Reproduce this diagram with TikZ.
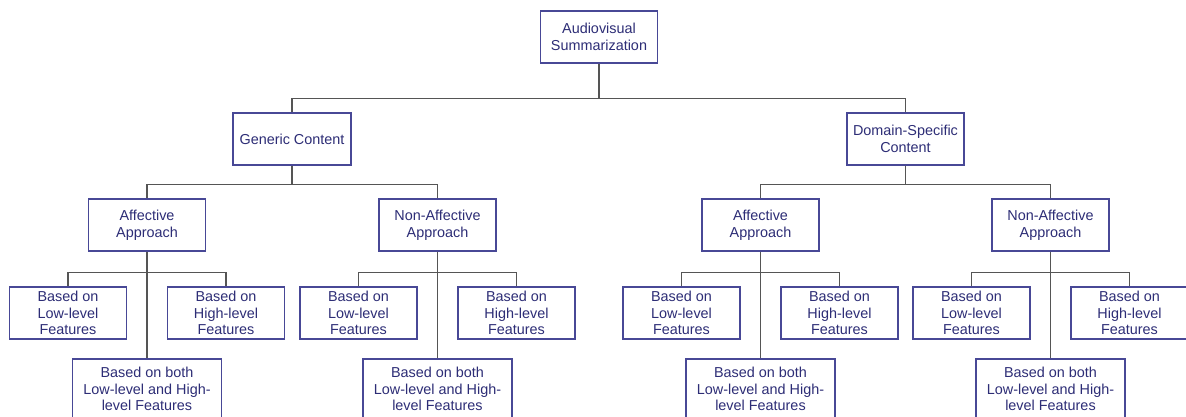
\documentclass[tikz,border=0pt]{standalone}
\usepackage{fontspec}
\setmainfont{Liberation Sans}
\usetikzlibrary{positioning}
\definecolor{boxline}{RGB}{72,72,150}
\definecolor{boxtext}{RGB}{45,45,118}
\definecolor{linkgray}{RGB}{85,85,85}

\begin{document}
\begin{tikzpicture}[x=0.75pt, y=-0.75pt,
	box/.style={rectangle, draw=boxline, text=boxtext, line width=0.9pt, fill=white, minimum width=87.75pt, minimum height=39pt, inner sep=0pt, align=center, font=\fontsize{10.8}{12.5}\selectfont},
	widebox/.style={box, minimum width=111.75pt, minimum height=45pt},
	link/.style={draw=linkgray, line width=1.2pt}]
	\useasboundingbox (0,0) rectangle (1186,417);
	\node[box] (root) at (599,37) {Audiovisual\\Summarization};
	\node[box, minimum width=88.5pt] (gen) at (292,139) {Generic Content};
	\node[box] (dom) at (905.5,139) {Domain-Specific\\Content};
	\node[box] (a1) at (147,225) {Affective\\Approach};
	\node[box] (n1) at (437.5,225) {Non-Affective\\Approach};
	\node[box] (a2) at (760.5,225) {Affective\\Approach};
	\node[box] (n2) at (1050.5,225) {Non-Affective\\Approach};
	\foreach \p in {a1,n1,a2,n2} {
		\path (\p) ++(-79,88) node[box] (\p-low) {Based on\\Low-level\\Features};
		\path (\p) ++(79,88) node[box] (\p-high) {Based on\\High-level\\Features};
		\path (\p) ++(0,164) node[widebox] (\p-both) {Based on both\\Low-level and High-\\level Features};
	}
	\draw[link] (root.south) -- ++(0,35) coordinate (r0) -| (gen.north);
	\draw[link] (r0) -| (dom.north);
	\draw[link] (gen.south) -- ++(0,19) coordinate (g0) -| (a1.north);
	\draw[link] (g0) -| (n1.north);
	\draw[link] (dom.south) -- ++(0,19) coordinate (d0) -| (a2.north);
	\draw[link] (d0) -| (n2.north);
	\foreach \p in {a1,n1,a2,n2} {
		\draw[link] (\p.south) -- ++(0,21) coordinate (\p-bar) -| (\p-low.north);
		\draw[link] (\p-bar) -| (\p-high.north);
		\draw[link] (\p-bar) -- (\p-both.north);
	}
\end{tikzpicture}
\end{document}
